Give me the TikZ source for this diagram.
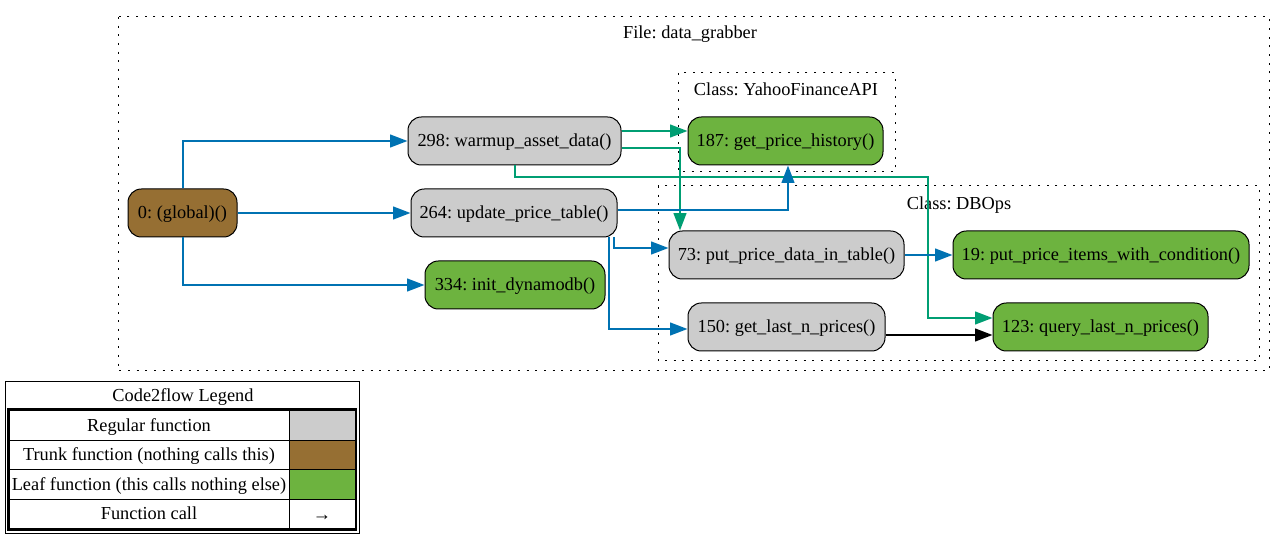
\documentclass[tikz,border=0pt]{standalone}
\usepackage{fontspec}
\setmainfont{Liberation Serif}
\usetikzlibrary{arrows.meta}
\definecolor{cgray}{HTML}{CCCCCC}
\definecolor{cbrown}{HTML}{966F33}
\definecolor{cgreen}{HTML}{6DB33F}
\definecolor{eblue}{HTML}{0072B2}
\definecolor{egreen}{HTML}{009E73}
\frenchspacing
\begin{document}
\begin{tikzpicture}[x=0.75pt,y=-0.75pt,
  fn/.style={draw, rounded corners=10pt, minimum height=36pt, inner sep=0pt, line width=0.75pt, font=\fontsize{13.75pt}{16pt}\selectfont\frenchspacing, text height=10.5pt, text depth=2.5pt},
  cluster/.style={draw, line width=0.75pt, dash pattern=on 1.5pt off 5pt},
  lbl/.style={inner sep=0pt, font=\fontsize{13.75pt}{16pt}\selectfont\frenchspacing, text height=10.5pt, text depth=2.5pt},
  call/.style={line width=1.5pt, -{Triangle[length=13pt,width=9.5pt]}},
  bl/.style={call, draw=eblue},
  gr/.style={call, draw=egreen},
  bk/.style={call, draw=black}]
\useasboundingbox (0,0) rectangle (1286,538);
\fill[white] (0,0) rectangle (1286,538);
% clusters
\draw[cluster] (118,17) rectangle (1269,371);
\node[lbl] (lfile) at (690,33) {File: data\_grabber};
\draw[cluster] (678,73) rectangle (895,172);
\node[lbl] (lyahoo) at (786,90) {Class: YahooFinanceAPI};
\draw[cluster] (658,186) rectangle (1259,361);
\node[lbl] (ldb) at (959,204) {Class: DBOps};
% nodes
\node[fn, fill=cbrown, minimum width=81.75pt] (g) at (182.5,213) {0: (global)()};
\node[fn, fill=cgray, minimum width=159.75pt] (w298) at (514.5,141) {298: warmup\_asset\_data()};
\node[fn, fill=cgray, minimum width=154.5pt] (u264) at (514,213) {264: update\_price\_table()};
\node[fn, fill=cgreen, minimum width=135pt] (i334) at (515,285) {334: init\_dynamodb()};
\node[fn, fill=cgreen, minimum width=146.25pt] (p187) at (785.5,141) {187: get\_price\_history()};
\node[fn, fill=cgray, minimum width=176.25pt] (t73) at (786.5,255) {73: put\_price\_data\_in\_table()};
\node[fn, fill=cgray, minimum width=147.75pt] (l150) at (786.5,327) {150: get\_last\_n\_prices()};
\node[fn, fill=cgreen, minimum width=222pt] (c19) at (1101,255) {19: put\_price\_items\_with\_condition()};
\node[fn, fill=cgreen, minimum width=161.25pt] (q123) at (1100.5,327) {123: query\_last\_n\_prices()};
% edges
\draw[bl] (g.north) |- (w298.west);
\draw[bl] (g.east) -- (u264.west);
\draw[bl] (g.south) |- (i334.west);
\draw[gr] (w298.east |- 0,131) -- (p187.west |- 0,131);
\draw[gr] (w298.east |- 0,148) -| (t73.north -| 680,0);
\draw[gr] (w298.south) |- (928,177) |- (q123.west |- 0,318);
\draw[bl] (u264.east |- 0,210) -| (p187.south -| 788,0);
\draw[bl] (u264.south -| 614,0) |- (t73.west |- 0,248);
\draw[bl] (u264.south -| 609,0) |- (l150.west |- 0,329);
\draw[bl] (t73.east) -- (c19.west);
\draw[bk] (l150.east |- 0,335) -- (q123.west |- 0,335);
% legend
\draw[line width=0.75pt] (5,382) rectangle (359,533);
\node[lbl] (ltitle) at (183,396) {Code2flow Legend};
\fill[cgray] (289,410) rectangle (356,440);
\fill[cbrown] (289,440) rectangle (356,469);
\fill[cgreen] (289,469) rectangle (356,499);
\draw[line width=0.75pt] (9,440) -- (356,440);
\draw[line width=0.75pt] (9,469) -- (356,469);
\draw[line width=0.75pt] (9,499) -- (356,499);
\draw[line width=0.75pt] (289,410) -- (289,529);
\draw[line width=2.2pt] (8.5,409.5) rectangle (356,529.5);
\node[lbl] (lr1) at (149,426) {Regular function};
\node[lbl] (lr2) at (149,455) {Trunk function (nothing calls this)};
\node[lbl] (lr3) at (149,485) {Leaf function (this calls nothing else)};
\node[lbl] (lr4) at (149,514) {Function call};
\node[lbl] (lr4b) at (322,515) {→};
\end{tikzpicture}
\end{document}
